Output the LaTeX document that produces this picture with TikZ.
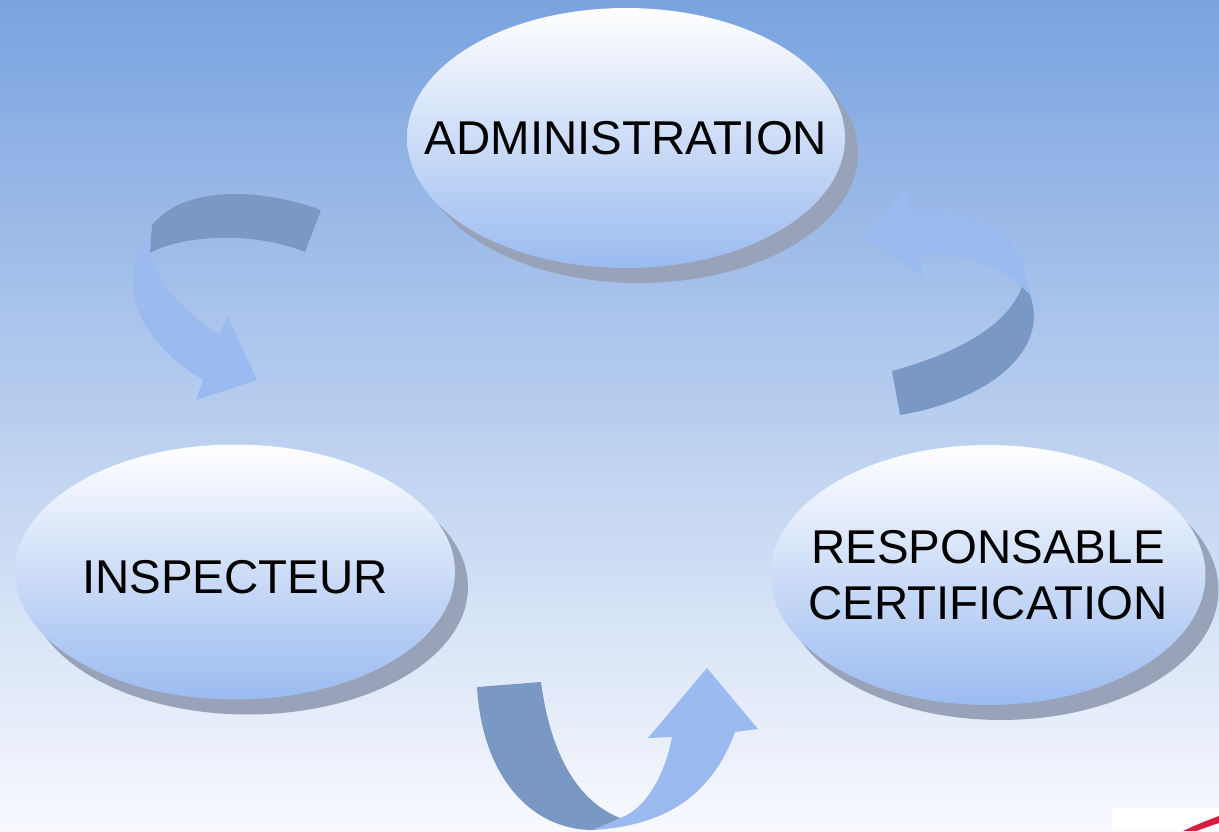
\documentclass[tikz,border=0pt]{standalone}
\usepackage{fontspec}
\setmainfont{Liberation Sans}
\usetikzlibrary{shapes.geometric,shadows}
\definecolor{bgtop}{RGB}{122,163,224}
\definecolor{bgbot}{RGB}{247,249,254}
\definecolor{ellblue}{RGB}{155,187,240}
\definecolor{shadegray}{RGB}{152,162,184}
\definecolor{arrowdark}{RGB}{122,152,196}
\definecolor{arrowlight}{RGB}{155,187,240}
\definecolor{logored}{RGB}{215,30,60}

\begin{document}
\begin{tikzpicture}[x=0.02cm, y=-0.02cm,
    oval/.style={ellipse, draw=none, inner sep=0pt, top color=white, bottom color=ellblue,
        drop shadow={shadow xshift=0.26cm, shadow yshift=-0.3cm, fill=shadegray, opacity=1}},
    txt/.style={align=center, font=\fontsize{27}{31.5}\selectfont},
    back/.style={fill=arrowdark, draw=none},
    front/.style={fill=arrowlight, draw=none}
]
\useasboundingbox (0,0) rectangle (1219,831);
\shade[top color=bgtop, bottom color=bgbot] (0,0) rectangle (1219,831);

% the three roles
\node[oval, minimum width=8.76cm, minimum height=5.2cm] (admin) at (626,138) {};
\node[oval, minimum width=8.8cm, minimum height=5.1cm] (insp) at (235,572) {};
\node[oval, minimum width=8.7cm, minimum height=5.2cm] (resp) at (988,575) {};

\node[txt] (admintxt) at (admin) {ADMINISTRATION};
\node[txt] (insptxt) at ([yshift=-0.1cm]insp.center) {INSPECTEUR};
\node[txt] (resptxt) at (resp) {RESPONSABLE\\CERTIFICATION};

% curved arrows
\fill[front] (150,235) .. controls (118,272) and (128,335) .. (203,380) -- (196,400) -- (257,380)
    -- (227,315) -- (220,335) .. controls (190,315) and (160,290) .. (150,253) -- cycle;
\fill[back] (321,210) .. controls (260,188) and (185,185) .. (152,225) -- (150,253)
    .. controls (180,236) and (250,230) .. (305,252) -- cycle;

\fill[front] (910,210) .. controls (960,205) and (1015,230) .. (1025,268) -- (1032,300)
    -- (1022,287) .. controls (1000,265) and (960,252) .. (920,254) -- (923,277) -- (865,237)
    -- (905,188) -- cycle;
\fill[back] (1022,287) -- (1030,295) .. controls (1050,350) and (990,400) .. (900,415)
    -- (892,371) .. controls (950,355) and (1005,330) .. (1022,287) -- cycle;

\fill[front] (593,830) .. controls (660,826) and (710,800) .. (735,732) -- (758,729) -- (707,668)
    -- (648,738) -- (672,737) .. controls (665,775) and (645,810) .. (620,818) -- cycle;
\fill[back] (477,687) -- (541,682) .. controls (550,750) and (575,800) .. (620,818) -- (593,830)
    .. controls (530,830) and (482,775) .. (477,687) -- cycle;

% logo corner
\fill[white] (1112,808) rectangle (1219,831);
\fill[logored] (1183,831) .. controls (1198,824) and (1208,820) .. (1219,816) -- (1219,823)
    .. controls (1210,826) and (1202,829) .. (1196,831) -- cycle;
\end{tikzpicture}
\end{document}
